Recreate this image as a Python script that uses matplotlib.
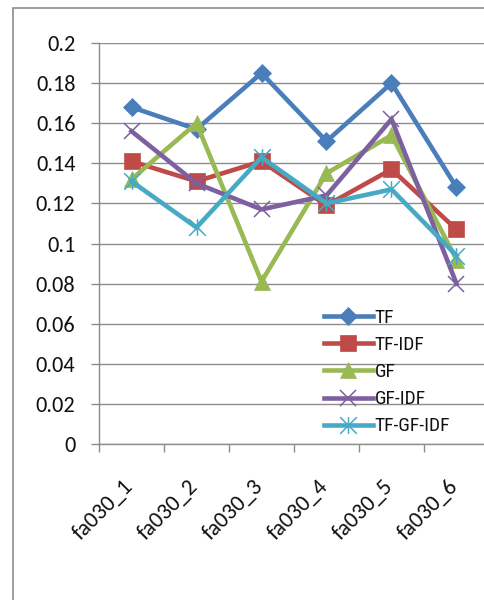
import numpy as np
import matplotlib.pyplot as plt
from matplotlib.patches import Rectangle
from matplotlib.path import Path
from matplotlib.transforms import ScaledTranslation

# данные
categories = ["fa030_1", "fa030_2", "fa030_3", "fa030_4", "fa030_5", "fa030_6"]
tf = [0.168, 0.157, 0.185, 0.151, 0.180, 0.128]
tf_idf = [0.141, 0.131, 0.141, 0.119, 0.137, 0.107]
gf = [0.132, 0.160, 0.081, 0.135, 0.154, 0.092]
gf_idf = [0.156, 0.130, 0.117, 0.124, 0.162, 0.080]
tf_gf_idf = [0.131, 0.108, 0.143, 0.120, 0.127, 0.094]

series_names = ["TF", "TF-IDF", "GF", "GF-IDF", "TF-GF-IDF"]
series_values = [tf, tf_idf, gf, gf_idf, tf_gf_idf]

colors = ["#4A7EBB", "#BE4B48", "#98B954", "#7D60A0", "#46AAC5"]

# маркер-звёздочка как в Excel: крестик + вертикальная черта
star = Path([(0, -1), (0, 1), (-1, -1), (1, 1), (-1, 1), (1, -1)],
            [Path.MOVETO, Path.LINETO, Path.MOVETO, Path.LINETO, Path.MOVETO, Path.LINETO])

markers = [dict(marker="D", markersize=9, markeredgewidth=0.5),
           dict(marker="s", markersize=12, markeredgewidth=0.5),
           dict(marker="^", markersize=12, markeredgewidth=0.5),
           dict(marker="x", markersize=12, markeredgewidth=1.1),
           dict(marker=star, markersize=12, markeredgewidth=1.1)]

W, H = 484, 600
fig = plt.figure(figsize=(W / 100, H / 100), dpi=100)
fig.patches.append(Rectangle((13 / W, -0.1), 1.2, 1.1 - 8 / H, transform=fig.transFigure,
                             fill=False, edgecolor="#8c8c8c", linewidth=1.2))

ax = fig.add_axes([99 / W, 1 - 444 / H, 390 / W, 401 / H])

x = np.arange(len(categories))
for name, vals, c, m in zip(series_names, series_values, colors, markers):
    ax.plot(x, vals, color=c, linewidth=3.3, label=name, markerfacecolor=c,
            markeredgecolor=c, solid_joinstyle="miter", **m)

ax.set_xlim(-0.5, len(categories) - 0.5)
ax.set_ylim(0, 0.2)
ax.set_yticks(np.arange(0, 0.201, 0.02))
ax.set_yticklabels(["0", "0.02", "0.04", "0.06", "0.08", "0.1", "0.12", "0.14", "0.16", "0.18", "0.2"])
ax.grid(axis="y", color="#8c8c8c", linewidth=1.0)
ax.set_axisbelow(True)

ax.set_xticks(np.arange(-0.5, len(categories)))
ax.set_xticklabels([])
ax.set_xticks(x, minor=True)
ax.set_xticklabels(categories, minor=True, rotation=45, ha="right", va="top",
                   rotation_mode="anchor")
ax.tick_params(axis="x", which="minor", length=0, pad=23)
ax.tick_params(axis="x", which="major", length=6, color="#8c8c8c", width=1)
ax.tick_params(axis="y", length=6, color="#8c8c8c", width=1, pad=11)

shift = ScaledTranslation(-9 / 100, 0, fig.dpi_scale_trans)
for lab in ax.get_xticklabels(minor=True):
    lab.set_transform(lab.get_transform() + shift)
for lab in ax.get_xticklabels(minor=True) + ax.get_yticklabels():
    lab.set_fontfamily("Carlito")
    lab.set_fontsize(16)
    lab.set_color("#111111")
for lab in ax.get_xticklabels(minor=True):
    lab.set_fontsize(16.5)

for s in ["top", "right"]:
    ax.spines[s].set_visible(False)
for s in ["left", "bottom"]:
    ax.spines[s].set_color("#8c8c8c")
    ax.spines[s].set_linewidth(1.0)

leg = ax.legend(loc="upper left", bbox_to_anchor=(320 / W, 1 - 305 / H),
                bbox_transform=fig.transFigure, frameon=False,
                prop={"family": "Roboto Condensed", "size": 14},
                handlelength=2.5, handletextpad=0.1, labelspacing=0.47,
                borderaxespad=0, borderpad=0.2)
for t in leg.get_texts():
    t.set_color("#111111")

fig.savefig("out.png", dpi=100)
